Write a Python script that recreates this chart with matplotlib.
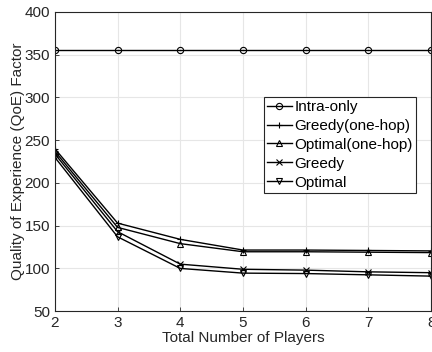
import matplotlib
matplotlib.use("Agg")
import matplotlib.pyplot as plt

# datos
jugadores = [2, 3, 4, 5, 6, 7, 8]
intra_only = [355, 355, 355, 355, 355, 355, 355]
greedy_onehop = [240, 153, 134, 121.5, 121.5, 121, 120.5]
optimal_onehop = [237, 148, 129, 119.5, 119.5, 119, 118.5]
greedy = [234, 143, 105, 99, 98, 96, 95]
optimal = [230, 137, 100, 94.5, 94, 92.5, 91]

plt.rcParams['font.family'] = ['Liberation Sans', 'DejaVu Sans']
gris = '#262626'

fig = plt.figure(figsize=(4.32, 3.52), dpi=100)
ax = fig.add_axes([0.127, 0.116, 0.871, 0.85])

estilo = dict(color='black', linewidth=1.0, markerfacecolor='none', markersize=4.5, markeredgewidth=0.8)
ax.plot(jugadores, intra_only, marker='o', label='Intra-only', **estilo)
ax.plot(jugadores, greedy_onehop, marker='+', label='Greedy(one-hop)', **estilo)
ax.plot(jugadores, optimal_onehop, marker='^', label='Optimal(one-hop)', **estilo)
ax.plot(jugadores, greedy, marker='x', label='Greedy', **estilo)
ax.plot(jugadores, optimal, marker='v', label='Optimal', **estilo)

ax.set_xlim(2, 8)
ax.set_ylim(50, 400)
ax.set_xticks(jugadores)
ax.set_yticks(range(50, 401, 50))
ax.grid(True, color='#e6e6e6', linewidth=0.8)
ax.set_axisbelow(True)
ax.tick_params(direction='in', length=3, labelsize=11, colors=gris, width=0.6)
for s in ax.spines.values():
    s.set_color(gris)
    s.set_linewidth(0.8)

ax.set_xlabel('Total Number of Players', fontsize=11, color=gris, labelpad=1)
ax.set_ylabel('Quality of Experience (QoE) Factor', fontsize=11, color=gris, labelpad=0)

leg = ax.legend(loc='upper right', bbox_to_anchor=(0.96, 0.716), fontsize=11,
                handlelength=1.6, handletextpad=0.2, borderpad=0.2, labelspacing=0.32,
                fancybox=False, framealpha=1, borderaxespad=0)
leg.get_frame().set_edgecolor(gris)
leg.get_frame().set_linewidth(0.8)

fig.savefig('out.png', dpi=100)
